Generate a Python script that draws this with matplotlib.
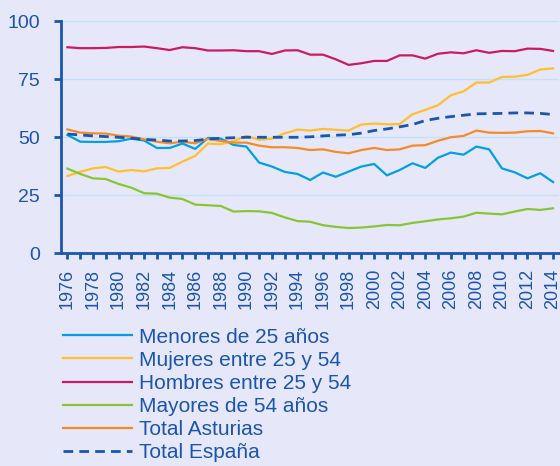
import numpy as np
import matplotlib.pyplot as plt

plt.rcParams['font.family'] = ['Liberation Sans', 'DejaVu Sans']

years = np.arange(1976, 2015)

menores_25 = [51.0, 48.1, 48.0, 48.0, 48.3, 49.4, 48.6, 45.4, 45.4, 47.3,
              45.0, 49.7, 49.4, 46.7, 46.0, 39.1, 37.4, 35.1, 34.2, 31.6,
              34.8, 33.0, 35.2, 37.4, 38.5, 33.6, 35.9, 38.8, 36.8, 41.2,
              43.4, 42.5, 46.0, 44.8, 36.6, 34.9, 32.3, 34.5, 30.7]
mujeres_25_54 = [33.3, 35.1, 36.6, 37.2, 35.2, 35.9, 35.3, 36.6, 36.8, 39.5,
                 42.0, 47.3, 47.0, 48.3, 50.6, 48.9, 49.4, 51.7, 53.3, 52.9,
                 53.6, 53.2, 52.9, 55.5, 55.9, 55.6, 55.7, 59.9, 61.8, 63.8,
                 68.1, 69.8, 73.6, 73.6, 76.0, 76.1, 76.9, 79.2, 79.7]
hombres_25_54 = [88.8, 88.4, 88.4, 88.5, 88.9, 88.9, 89.1, 88.4, 87.6, 88.8,
                 88.4, 87.4, 87.4, 87.5, 87.1, 87.1, 85.9, 87.4, 87.5, 85.6,
                 85.6, 83.6, 81.2, 81.9, 82.9, 82.9, 85.3, 85.3, 83.9, 86.0,
                 86.6, 86.2, 87.5, 86.4, 87.2, 87.1, 88.2, 88.1, 87.2]
mayores_54 = [36.5, 34.2, 32.3, 32.0, 29.9, 28.3, 25.9, 25.7, 24.0, 23.4,
              21.0, 20.7, 20.4, 18.0, 18.2, 18.1, 17.4, 15.5, 13.9, 13.6,
              12.1, 11.4, 10.9, 11.1, 11.6, 12.2, 12.1, 13.1, 13.8, 14.6,
              15.1, 15.8, 17.5, 17.1, 16.8, 18.0, 19.1, 18.7, 19.4]
total_asturias = [53.4, 52.0, 51.7, 51.6, 50.7, 50.3, 49.1, 48.1, 47.4, 48.1,
                  47.4, 49.3, 48.4, 47.7, 47.7, 46.4, 45.7, 45.7, 45.4, 44.5,
                  44.8, 43.7, 43.1, 44.5, 45.4, 44.5, 44.8, 46.4, 46.6, 48.5,
                  50.0, 50.6, 52.9, 52.0, 51.9, 52.0, 52.6, 52.7, 51.7]
total_espana = [51.4, 51.0, 50.6, 50.3, 50.0, 49.6, 49.1, 48.8, 48.4, 48.4,
                48.6, 49.2, 49.6, 49.8, 50.0, 50.0, 50.0, 50.0, 50.0, 50.2,
                50.6, 50.9, 51.1, 51.8, 52.9, 53.6, 54.5, 55.5, 57.2, 58.2,
                58.9, 59.5, 60.1, 60.2, 60.3, 60.5, 60.5, 60.3, 59.8]

bg = '#E7E7FA'
azul = '#1A55AE'

fig = plt.figure(figsize=(5.6, 4.66), dpi=100, facecolor=bg)
ax = fig.add_axes([0.109, 0.4564, 0.89, 0.498], facecolor=bg)

lw = 1.6
ax.plot(years, menores_25, color='#00A0E2', lw=lw, label='Menores de 25 años')
ax.plot(years, mujeres_25_54, color='#FFBF2E', lw=lw, label='Mujeres entre 25 y 54')
ax.plot(years, hombres_25_54, color='#CC1A5E', lw=lw, label='Hombres entre 25 y 54')
ax.plot(years, mayores_54, color='#86C633', lw=lw, label='Mayores de 54 años')
ax.plot(years, total_asturias, color='#F68B25', lw=lw, label='Total Asturias')
ax.plot(years, total_espana, color=azul, lw=2.0, ls=(0, (3.5, 2.2)),
        label='Total España')

ax.set_xlim(1975.5, 2014.5)
ax.set_ylim(0, 100)
ax.set_yticks([0, 25, 50, 75, 100])
ax.set_xticks(years, minor=True)
ax.set_xticks(years[::2])
ax.set_xticklabels([str(y) for y in years[::2]], rotation=90)
ax.grid(axis='y', color='#C2E2F6', lw=1.0)
ax.set_axisbelow(True)

for s in ['top', 'right']:
    ax.spines[s].set_visible(False)
for s in ['left', 'bottom']:
    ax.spines[s].set_color(azul)
    ax.spines[s].set_linewidth(2)

ax.tick_params(axis='y', colors=azul, labelsize=14, length=5, width=2, pad=10)
ax.tick_params(axis='x', which='both', colors=azul, labelsize=13, length=4,
               width=2, pad=7)

fig.legend(loc='upper left', bbox_to_anchor=(0.1125, 0.297), frameon=False,
           fontsize=15, labelcolor=azul, handlelength=3.3, handletextpad=0.35,
           labelspacing=0.2, borderaxespad=0, borderpad=0)

fig.savefig('out.png', dpi=100, facecolor=bg)
